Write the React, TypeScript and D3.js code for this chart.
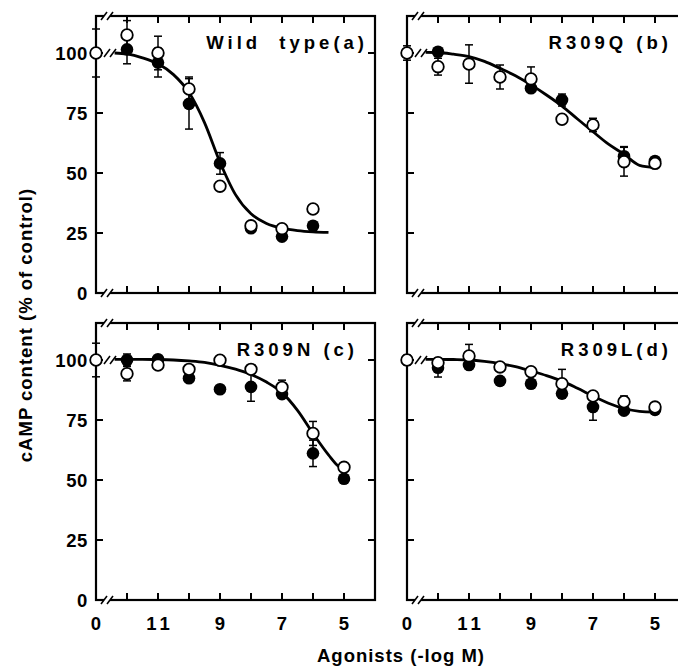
import React, { useEffect, useRef } from 'react';
import * as d3 from 'd3';

// agonist doses (-log M); the control (no agonist) sits at the axis break, labelled "0"
const doses = [12, 11, 10, 9, 8, 7, 6, 5];
const controlDose = 13;
const yTicks = [0, 25, 50, 75, 100];
const xLabelDoses = [13, 11, 9, 7, 5];
const xLabels = ['0', '11', '9', '7', '5'];

// Wild type (a)
const wtFilled = [101.5, 96, 78.8, 54, 27, 23.5, 28, null];
const wtFilledErr = [6, 6, 10.5, 4.5, 0, 0, 0, 0];
const wtOpen = [107.5, 100, 85, 44.5, 28, 26.8, 35, null];
const wtOpenErr = [6, 7, 5, 0, 0, 0, 0, 0];
const wtControlErr = 10;
const wtCurveDoses = [12.4, 12, 11.5, 11, 10.5, 10, 9.5, 9, 8.5, 8, 7.5, 7, 6.5, 6, 5.5];
const wtCurve = [100, 99.6, 98, 95.5, 91, 83.5, 71, 54.5, 41, 33, 29, 27, 26, 25.5, 25.3];

// R309Q (b)
const qFilled = [100.5, null, null, 85.3, 80.4, null, 57, 55];
const qFilledErr = [0, 0, 0, 0, 2.5, 0, 4, 0];
const qOpen = [94.3, 95.4, 90, 89.2, 72.4, 70, 54.7, 54];
const qOpenErr = [3.5, 8, 5, 5, 0, 2.8, 6, 0];
const qControlErr = 3;
const qCurveDoses = [12.4, 12, 11.5, 11, 10.5, 10, 9.5, 9, 8.5, 8, 7.5, 7, 6.5, 6, 5.5, 5];
const qCurve = [100.3, 100.2, 99.5, 98.5, 96.5, 93.6, 90.5, 86.7, 82.5, 77.9, 72.5, 67.2, 62, 57.8, 53.2, 52.3];

// R309N (c)
const nFilled = [100, 100.3, 92.4, 87.8, 88.8, 85.8, 61.1, 50.5];
const nFilledErr = [2.5, 0, 0, 0, 6, 0, 5.5, 0];
const nOpen = [94.3, 97.9, 96.1, 99.9, 96.1, 88.6, 69.4, 55.3];
const nOpenErr = [3, 0, 0, 0, 0, 3, 5, 0];
const nControlErr = 7;
const nCurveDoses = [12.4, 12, 11.5, 11, 10.5, 10, 9.5, 9, 8.5, 8, 7.5, 7, 6.5, 6, 5.5, 5.2, 5];
const nCurve = [100.3, 100.3, 100.3, 100.2, 100, 99.6, 99, 97.8, 96.2, 94, 90.8, 86.4, 79, 69.4, 60.5, 56, 54.5];

// R309L (d)
const lFilled = [96.8, 97.9, 91.3, 90.1, 86, 80.4, 78.9, 79.2];
const lFilledErr = [3.9, 0, 0, 0, 0, 5.5, 0, 0];
const lOpen = [98.9, 101.7, 97.1, 95.1, 90.1, 85, 82.6, 80.4];
const lOpenErr = [0, 4.8, 0, 0, 6, 0, 2.4, 0];
const lControlErr = 2;
const lCurveDoses = [12.4, 12, 11.5, 11, 10.5, 10, 9.5, 9, 8.5, 8, 7.5, 7, 6.5, 6, 5.5, 5];
const lCurve = [100.3, 100.3, 100.2, 100, 99.4, 98.5, 97.2, 95.4, 93.5, 91.2, 88.2, 85, 82, 79.8, 78.6, 78.3];

const FONT = "'Liberation Sans', Arial, Helvetica, sans-serif";

const panels = [
  { title: 'Wild  type(a)', left: 96, top: 16, titleRight: 272, yLabels: true, xLabels: false,
    filled: wtFilled, filledErr: wtFilledErr, open: wtOpen, openErr: wtOpenErr, controlErr: wtControlErr,
    curveDoses: wtCurveDoses, curve: wtCurve },
  { title: 'R309Q (b)', left: 407, top: 16, titleRight: 265, yLabels: false, xLabels: false,
    filled: qFilled, filledErr: qFilledErr, open: qOpen, openErr: qOpenErr, controlErr: qControlErr,
    curveDoses: qCurveDoses, curve: qCurve },
  { title: 'R309N (c)', left: 96, top: 323, titleRight: 262, yLabels: true, xLabels: true,
    filled: nFilled, filledErr: nFilledErr, open: nOpen, openErr: nOpenErr, controlErr: nControlErr,
    curveDoses: nCurveDoses, curve: nCurve },
  { title: 'R309L(d)', left: 407, top: 323, titleRight: 265, yLabels: false, xLabels: true,
    filled: lFilled, filledErr: lFilledErr, open: lOpen, openErr: lOpenErr, controlErr: lControlErr,
    curveDoses: lCurveDoses, curve: lCurve },
];

const W = 279;
const H = 277;

const App = () => {
  const svgRef = useRef(null);

  useEffect(() => {
    const svg = d3.select(svgRef.current);
    svg.selectAll('*').remove();

    panels.forEach((p) => {
      const g = svg.append('g').attr('transform', `translate(${p.left},${p.top})`);
      const x = d3.scaleLinear().domain([13, 4]).range([0, W]);
      const y = d3.scaleLinear().domain([0, H / 2.4]).range([H, 0]);

      // frame
      g.append('rect')
        .attr('width', W).attr('height', H)
        .attr('fill', 'none').attr('stroke', 'black').attr('stroke-width', 2.2);

      // inward ticks on all sides
      doses.forEach((d) => {
        g.append('line').attr('x1', x(d)).attr('x2', x(d)).attr('y1', 0).attr('y2', 7)
          .attr('stroke', 'black').attr('stroke-width', 2);
        g.append('line').attr('x1', x(d)).attr('x2', x(d)).attr('y1', H).attr('y2', H - 7)
          .attr('stroke', 'black').attr('stroke-width', 2);
      });
      yTicks.slice(1).forEach((t) => {
        g.append('line').attr('x1', 0).attr('x2', 7).attr('y1', y(t)).attr('y2', y(t))
          .attr('stroke', 'black').attr('stroke-width', 2);
        g.append('line').attr('x1', W).attr('x2', W - 7).attr('y1', y(t)).attr('y2', y(t))
          .attr('stroke', 'black').attr('stroke-width', 2);
      });

      // axis breaks
      const brk = (cx, cy) => {
        g.append('rect').attr('x', cx - 3).attr('y', cy - 2).attr('width', 6).attr('height', 4).attr('fill', 'white');
        [-3, 3].forEach((o) => {
          g.append('line')
            .attr('x1', cx + o - 3).attr('y1', cy + 4)
            .attr('x2', cx + o + 3).attr('y2', cy - 4)
            .attr('stroke', 'black').attr('stroke-width', 1.6);
        });
      };
      brk(11, 0);
      brk(11, H);
      brk(14, y(100));

      // fitted curve
      const line = d3.line()
        .x((d) => x(d[0]))
        .y((d) => y(d[1]))
        .curve(d3.curveMonotoneX);
      g.append('path')
        .datum(p.curveDoses.map((d, i) => [d, p.curve[i]]))
        .attr('fill', 'none').attr('stroke', 'black').attr('stroke-width', 2.8)
        .attr('d', line);

      // error bars
      const errBar = (d, v, e) => {
        if (v == null || !e) return;
        const cx = x(d);
        g.append('line').attr('x1', cx).attr('x2', cx).attr('y1', y(v - e)).attr('y2', y(v + e))
          .attr('stroke', 'black').attr('stroke-width', 1.5);
        [v - e, v + e].forEach((c) => {
          g.append('line').attr('x1', cx - 4).attr('x2', cx + 4).attr('y1', y(c)).attr('y2', y(c))
            .attr('stroke', 'black').attr('stroke-width', 1.5);
        });
      };
      errBar(controlDose, 100, p.controlErr);
      doses.forEach((d, i) => {
        errBar(d, p.filled[i], p.filledErr[i]);
        errBar(d, p.open[i], p.openErr[i]);
      });

      // filled circles
      doses.forEach((d, i) => {
        if (p.filled[i] == null) return;
        g.append('circle').attr('cx', x(d)).attr('cy', y(p.filled[i])).attr('r', 6.3).attr('fill', 'black');
      });
      // open circles (control included)
      const openPts = [[controlDose, 100]].concat(
        doses.map((d, i) => [d, p.open[i]]).filter((q) => q[1] != null)
      );
      openPts.forEach((q) => {
        g.append('circle').attr('cx', x(q[0])).attr('cy', y(q[1])).attr('r', 5.8)
          .attr('fill', 'white').attr('stroke', 'black').attr('stroke-width', 1.8);
      });

      // panel title
      g.append('text')
        .attr('x', p.titleRight).attr('y', 33)
        .attr('text-anchor', 'end')
        .attr('font-family', FONT).attr('font-weight', 'bold').attr('font-size', 18.5)
        .attr('letter-spacing', 4)
        .style('white-space', 'pre')
        .text(p.title);

      if (p.yLabels) {
        yTicks.forEach((t) => {
          g.append('text')
            .attr('x', -8).attr('y', y(t)).attr('dy', '0.36em')
            .attr('text-anchor', 'end')
            .attr('font-family', FONT).attr('font-weight', 'bold').attr('font-size', 18.5)
            .attr('letter-spacing', 0.6)
            .text(t);
        });
      }
      if (p.xLabels) {
        xLabelDoses.forEach((d, i) => {
          g.append('text')
            .attr('x', x(d)).attr('y', H + 30).attr('dx', 2)
            .attr('text-anchor', 'middle')
            .attr('font-family', FONT).attr('font-weight', 'bold').attr('font-size', 18.5)
            .attr('letter-spacing', 4)
            .text(xLabels[i]);
        });
      }
    });

    svg.append('text')
      .attr('x', 401).attr('y', 662)
      .attr('text-anchor', 'middle')
      .attr('font-family', FONT).attr('font-weight', 'bold').attr('font-size', 18.5)
      .attr('letter-spacing', 1)
      .text('Agonists (-log M)');

    svg.append('text')
      .attr('transform', 'translate(32,325) rotate(-90)')
      .attr('text-anchor', 'middle')
      .attr('font-family', FONT).attr('font-weight', 'bold').attr('font-size', 18.5)
      .attr('letter-spacing', 1)
      .text('cAMP content (% of control)');
  }, []);

  return (
    <svg
      ref={svgRef}
      width={678}
      height={669}
      style={{ position: 'absolute', left: 0, top: 0, background: 'white' }}
    />
  );
};

export default App;
